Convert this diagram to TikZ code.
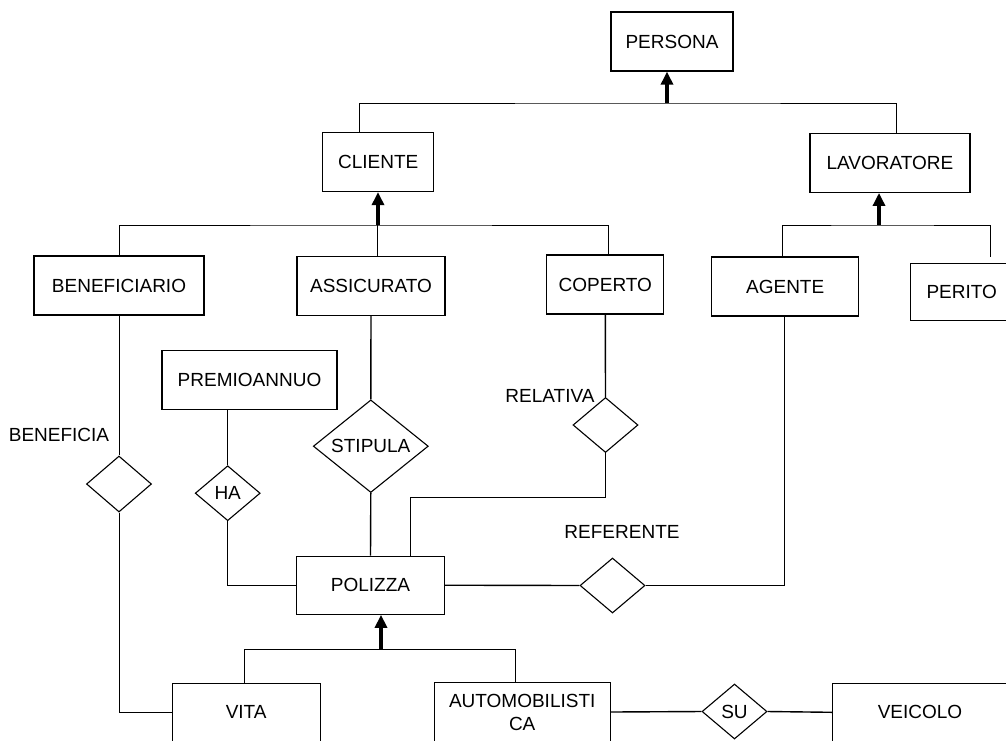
\documentclass[tikz,border=0pt]{standalone}
\usepackage{fontspec}
\setmainfont{Liberation Sans}
\usetikzlibrary{shapes.geometric,arrows.meta}

\begin{document}
\begin{tikzpicture}[x=1pt,y=-1pt,
  every node/.style={font=\fontsize{19pt}{23pt}\selectfont},
  entity node/.style={rectangle,draw,line width=1.3pt,minimum height=59pt,inner sep=0pt},
  relation node/.style={diamond,draw,line width=1.1pt,minimum width=65pt,minimum height=55pt,inner sep=0pt},
  link/.style={line width=0.8pt},
  strong link/.style={line width=1.4pt},
  isa/.style={line width=3.2pt,-{Triangle[width=12pt,length=13pt]}}]
  \useasboundingbox (0,0) rectangle (1006,740);
  \clip (0,0) rectangle (1006,740);

  % entities
  \node[entity node,minimum width=122pt] (persona) at (672,41.5) {PERSONA};
  \node[entity node,minimum width=111pt] (cliente) at (378.3,162) {CLIENTE};
  \node[entity node,minimum width=160pt] (lavoratore) at (890,162.8) {LAVORATORE};
  \node[entity node,minimum width=170pt] (beneficiario) at (119,285.5) {BENEFICIARIO};
  \node[entity node,minimum width=148pt] (assicurato) at (371,286) {ASSICURATO};
  \node[entity node,minimum width=117pt] (coperto) at (605.3,284.5) {COPERTO};
  \node[entity node,minimum width=147pt] (agente) at (785.2,286.5) {AGENTE};
  \node[entity node,minimum width=103pt,minimum height=57pt] (perito) at (961.7,292.3) {PERITO};
  \node[entity node,minimum width=175pt] (premioannuo) at (249.5,379.7) {PREMIOANNUO};
  \node[entity node,minimum width=148pt,minimum height=58pt] (polizza) at (370.5,585.2) {POLIZZA};
  \node[entity node,minimum width=148pt,minimum height=58pt] (vita) at (246.2,712.3) {VITA};
  \node[entity node,minimum width=176pt,align=center] (automobilistica) at (522.2,712) {AUTOMOBILISTI\\CA};
  \node[entity node,minimum width=175pt,minimum height=58pt] (veicolo) at (920,712.3) {VEICOLO};

  % relationships
  \node[relation node,minimum height=56pt] (beneficia) at (119,484) {};
  \node[relation node] (ha) at (227.7,493.2) {HA};
  \node[relation node,minimum width=115pt,minimum height=62pt] (stipula) at (370.8,446.2) {STIPULA};
  \node[relation node] (relativa) at (605.5,425) {};
  \node[relation node] (referente) at (612.5,585.5) {};
  \node[relation node] (su) at (734.5,711.5) {SU};

  \node (beneficialabel) at (59,435) {BENEFICIA};
  \node (relativalabel) at (550,396) {RELATIVA};
  \node (referentelabel) at (622,532) {REFERENTE};

  % generalizations
  \coordinate (bus1) at (667,103);
  \coordinate (bus2) at (378,225);
  \coordinate (bus3) at (879,225);
  \coordinate (bus4) at (381,649);
  \coordinate (peritoend) at (990,257);

  \draw[link] ([xshift=-19.3pt]cliente.north) |- (bus1) -| ([xshift=6.7pt]lavoratore.north);
  \draw[isa] (bus1) -- (bus1 |- persona.south);

  \draw[link] (beneficiario.north) |- (bus2) -| ([xshift=2.7pt]coperto.north);
  \draw[link] ([xshift=6pt]assicurato.north) |- (bus2);
  \draw[isa] (bus2) -- (bus2 |- cliente.south);

  \draw[link] ([xshift=-2.5pt]agente.north) |- (bus3) -| (peritoend);
  \draw[isa] (bus3) -- (bus3 |- lavoratore.south);

  \draw[link] ([xshift=-2pt]vita.north) |- (bus4) -| ([xshift=-7pt]automobilistica.north);
  \draw[isa] (bus4) -- (bus4 |- polizza.south);

  % links
  \draw[link] (beneficiario.south) -- (beneficia.north);
  \draw[link] (beneficia.south) |- (vita.west);
  \draw[strong link] (ha.north |- premioannuo.south) -- (ha.north);
  \draw[link] (ha.south) |- (polizza.west);
  \draw[strong link] (assicurato.south) -- (stipula.north);
  \draw[strong link] (stipula.south) -- (polizza.north);
  \draw[strong link] (coperto.south) -- (relativa.north);
  \draw[link] (relativa.south) -- ++(0,44) -| ([xshift=40.2pt]polizza.north);
  \draw[strong link] (polizza.east) -- (referente.west);
  \draw[link] (referente.east) -| ([xshift=-1pt]agente.south);
  \draw[strong link] (automobilistica.east) -- (su.west);
  \draw[strong link] (su.east) -- (veicolo.west);
\end{tikzpicture}
\end{document}
